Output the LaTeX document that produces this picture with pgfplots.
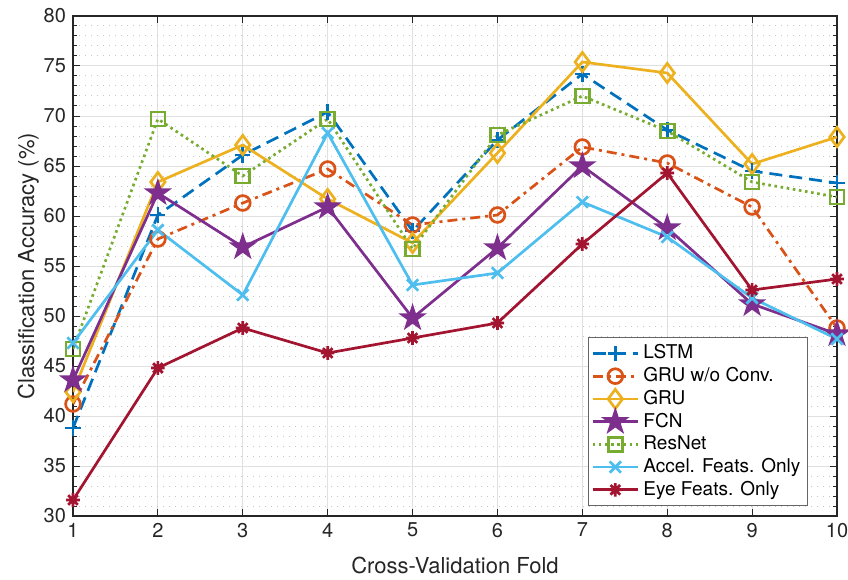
\documentclass[border=0pt]{standalone}
\usepackage{pgfplots}
\pgfplotsset{compat=1.18}
\usepackage{fontspec}
\setmainfont{TeX Gyre Heros}
\definecolor{mblue}{RGB}{0,114,189}
\definecolor{morange}{RGB}{217,83,25}
\definecolor{myellow}{RGB}{237,177,32}
\definecolor{mpurple}{RGB}{126,47,142}
\definecolor{mgreen}{RGB}{119,172,48}
\definecolor{mcyan}{RGB}{77,190,238}
\definecolor{mred}{RGB}{162,20,47}
\definecolor{axgray}{RGB}{38,38,38}
\pgfdeclareplotmark{pentagram}{%
  \pgfpathmoveto{\pgfpointpolar{90}{\pgfplotmarksize}}%
  \pgfpathlineto{\pgfpointpolar{126}{0.382\pgfplotmarksize}}%
  \pgfpathlineto{\pgfpointpolar{162}{\pgfplotmarksize}}%
  \pgfpathlineto{\pgfpointpolar{198}{0.382\pgfplotmarksize}}%
  \pgfpathlineto{\pgfpointpolar{234}{\pgfplotmarksize}}%
  \pgfpathlineto{\pgfpointpolar{270}{0.382\pgfplotmarksize}}%
  \pgfpathlineto{\pgfpointpolar{306}{\pgfplotmarksize}}%
  \pgfpathlineto{\pgfpointpolar{342}{0.382\pgfplotmarksize}}%
  \pgfpathlineto{\pgfpointpolar{18}{\pgfplotmarksize}}%
  \pgfpathlineto{\pgfpointpolar{54}{0.382\pgfplotmarksize}}%
  \pgfpathclose
  \pgfusepathqfillstroke
}
\pgfdeclareplotmark{mstar}{%
  \pgfpathmoveto{\pgfqpoint{-\pgfplotmarksize}{0pt}}\pgfpathlineto{\pgfqpoint{\pgfplotmarksize}{0pt}}%
  \pgfpathmoveto{\pgfqpoint{0pt}{-\pgfplotmarksize}}\pgfpathlineto{\pgfqpoint{0pt}{\pgfplotmarksize}}%
  \pgfpathmoveto{\pgfpoint{-0.7071\pgfplotmarksize}{-0.7071\pgfplotmarksize}}\pgfpathlineto{\pgfpoint{0.7071\pgfplotmarksize}{0.7071\pgfplotmarksize}}%
  \pgfpathmoveto{\pgfpoint{-0.7071\pgfplotmarksize}{0.7071\pgfplotmarksize}}\pgfpathlineto{\pgfpoint{0.7071\pgfplotmarksize}{-0.7071\pgfplotmarksize}}%
  \pgfusepathqstroke
}
\begin{document}
\begin{tikzpicture}
\begin{axis}[
  scale only axis,
  width=382pt, height=250pt,
  xmin=1, xmax=10, ymin=30, ymax=80,
  xtick={1,...,10},
  ytick={30,35,...,80},
  minor y tick num=4,
  grid=both,
  major grid style={color=black!12, line width=0.5pt},
  minor grid style={color=black!22, line width=0.5pt, dash pattern=on 0.5pt off 2.5pt},
  tick align=inside,
  major tick length=3.5pt,
  minor tick length=2pt,
  axis line style={color=axgray, line width=0.6pt},
  every tick/.style={color=axgray, line width=0.5pt},
  tick label style={font=\fontsize{10}{12}\selectfont, color=axgray},
  label style={font=\fontsize{11}{13}\selectfont, color=axgray},
  /pgf/number format/assume math mode=true,
  xlabel={Cross-Validation Fold},
  ylabel={Classification Accuracy (\%)},
  xlabel style={yshift=-3pt},
  ylabel style={yshift=-4.5pt},
  legend style={at={(0.962,0.02)}, anchor=south east, draw=black!60, line width=0.6pt,
    font=\fontsize{9.5}{10}\selectfont, fill=white, inner sep=1.5pt,
    row sep=-1.2pt, cells={anchor=west}},
  legend image code/.code={%
    \draw[mark repeat=2,mark phase=2] plot coordinates {(0cm,0cm) (0.4cm,0cm) (0.8cm,0cm)};},
  every axis plot/.append style={line width=1.35pt},
]
\addplot[color=mblue, dash pattern=on 6.5pt off 3.5pt, mark=+, mark size=3.8pt, mark options={solid}]
  coordinates {(1,38.8) (2,60.1) (3,66.1) (4,70.4) (5,58.5) (6,67.6) (7,74.2) (8,68.6) (9,64.5) (10,63.3)};
\addlegendentry{LSTM}
\addplot[color=morange, dash pattern=on 5pt off 2.5pt on 1.5pt off 2.5pt, mark=o, mark size=3.7pt, mark options={solid}]
  coordinates {(1,41.2) (2,57.7) (3,61.3) (4,64.7) (5,59.1) (6,60.1) (7,66.9) (8,65.3) (9,60.9) (10,48.8)};
\addlegendentry{GRU w/o Conv.}
\addplot[color=myellow, mark=diamond, mark size=4.8pt, mark options={solid}]
  coordinates {(1,42.4) (2,63.4) (3,67.1) (4,61.7) (5,57.3) (6,66.3) (7,75.4) (8,74.3) (9,65.2) (10,67.9)};
\addlegendentry{GRU}
\addplot[color=mpurple, mark=pentagram, mark size=5.3pt, mark options={solid, fill=mpurple}]
  coordinates {(1,43.6) (2,62.3) (3,56.9) (4,60.9) (5,49.8) (6,56.8) (7,65.0) (8,58.8) (9,51.2) (10,48.2)};
\addlegendentry{FCN}
\addplot[color=mgreen, dash pattern=on 1.3pt off 1.8pt, mark=square, mark size=3.5pt, mark options={solid}]
  coordinates {(1,46.7) (2,69.7) (3,64.0) (4,69.7) (5,56.7) (6,68.1) (7,72.0) (8,68.5) (9,63.4) (10,61.9)};
\addlegendentry{ResNet}
\addplot[color=mcyan, mark=x, mark size=4pt, mark options={solid}]
  coordinates {(1,47.3) (2,58.6) (3,52.1) (4,68.3) (5,53.1) (6,54.3) (7,61.4) (8,57.9) (9,51.8) (10,47.7)};
\addlegendentry{Accel. Feats. Only}
\addplot[color=mred, mark=mstar, mark size=3.4pt, mark options={solid}]
  coordinates {(1,31.6) (2,44.8) (3,48.8) (4,46.3) (5,47.8) (6,49.3) (7,57.2) (8,64.3) (9,52.6) (10,53.7)};
\addlegendentry{Eye Feats. Only}
\end{axis}
\pgfresetboundingbox
\path ([shift={(-36.5pt,-31.5pt)}]current axis.south west) rectangle ([shift={(5.5pt,8pt)}]current axis.north east);
\end{tikzpicture}
\end{document}
